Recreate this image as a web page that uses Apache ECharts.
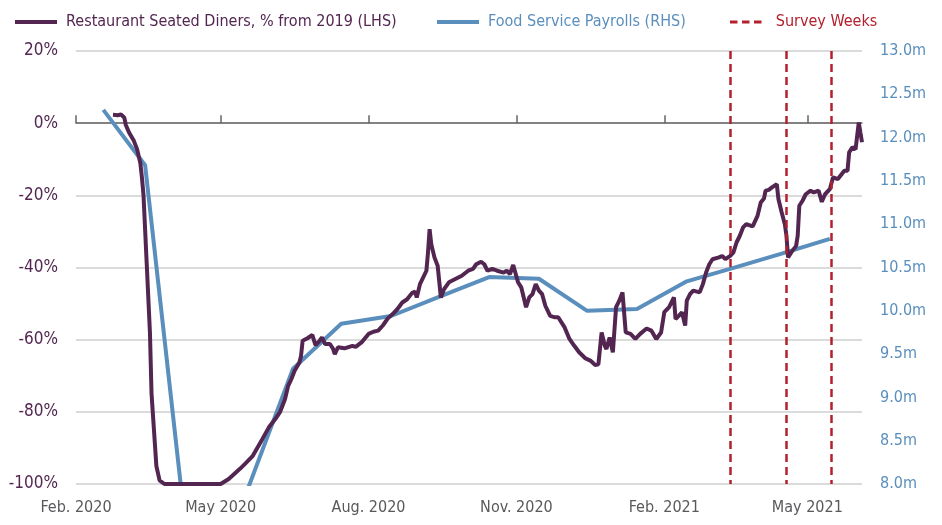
<!DOCTYPE html>
<html>
<head>
<meta charset="utf-8">
<script src="https://cdn.jsdelivr.net/npm/echarts@6/dist/echarts.min.js"></script>
<style>
  html, body { margin: 0; padding: 0; background: #fff; }
  #main { width: 942px; height: 525px; }
</style>
</head>
<body>
<div id="main"></div>
<script>
// x axis labels
var xTickDates = ["2020-02-01", "2020-05-01", "2020-08-01", "2020-11-01", "2021-02-01", "2021-05-01"];
var xTickLabels = ["Feb. 2020", "May 2020", "Aug. 2020", "Nov. 2020", "Feb. 2021", "May 2021"];
var zeroTickDates = ["2020-02-01", "2020-05-01", "2020-08-01", "2020-11-01", "2021-02-01", "2021-05-01"];

// Restaurant Seated Diners, % from 2019
var dinerDates = [
  "2020-02-24", "2020-02-27", "2020-02-29", "2020-03-02", "2020-03-03", "2020-03-05", "2020-03-08", "2020-03-10",
  "2020-03-12", "2020-03-13", "2020-03-14", "2020-03-16", "2020-03-18", "2020-03-19", "2020-03-22", "2020-03-24",
  "2020-03-27", "2020-05-01", "2020-05-06", "2020-05-13", "2020-05-16", "2020-05-21", "2020-05-27", "2020-05-31",
  "2020-06-04", "2020-06-07", "2020-06-10", "2020-06-12", "2020-06-14", "2020-06-16", "2020-06-19", "2020-06-20",
  "2020-06-21", "2020-06-24", "2020-06-27", "2020-06-29", "2020-07-01", "2020-07-03", "2020-07-05", "2020-07-08",
  "2020-07-10", "2020-07-11", "2020-07-13", "2020-07-17", "2020-07-22", "2020-07-24", "2020-07-28", "2020-08-01",
  "2020-08-04", "2020-08-07", "2020-08-10", "2020-08-13", "2020-08-16", "2020-08-19", "2020-08-22", "2020-08-25",
  "2020-08-28", "2020-08-30", "2020-08-31", "2020-09-02", "2020-09-06", "2020-09-07", "2020-09-08", "2020-09-09",
  "2020-09-11", "2020-09-13", "2020-09-15", "2020-09-17", "2020-09-20", "2020-09-24", "2020-09-28", "2020-10-02",
  "2020-10-05", "2020-10-07", "2020-10-10", "2020-10-12", "2020-10-14", "2020-10-17", "2020-10-20", "2020-10-24",
  "2020-10-26", "2020-10-28", "2020-10-30", "2020-11-02", "2020-11-04", "2020-11-07", "2020-11-09", "2020-11-11",
  "2020-11-13", "2020-11-15", "2020-11-17", "2020-11-19", "2020-11-22", "2020-11-25", "2020-11-27", "2020-12-01",
  "2020-12-04", "2020-12-07", "2020-12-10", "2020-12-14", "2020-12-17", "2020-12-20", "2020-12-22", "2020-12-24",
  "2020-12-26", "2020-12-27", "2020-12-29", "2020-12-31", "2021-01-02", "2021-01-04", "2021-01-06", "2021-01-08",
  "2021-01-11", "2021-01-14", "2021-01-17", "2021-01-21", "2021-01-24", "2021-01-27", "2021-01-30", "2021-02-01",
  "2021-02-04", "2021-02-07", "2021-02-08", "2021-02-10", "2021-02-12", "2021-02-14", "2021-02-15", "2021-02-17",
  "2021-02-19", "2021-02-23", "2021-02-25", "2021-02-27", "2021-03-01", "2021-03-03", "2021-03-07", "2021-03-09",
  "2021-03-11", "2021-03-14", "2021-03-16", "2021-03-18", "2021-03-20", "2021-03-22", "2021-03-24", "2021-03-28",
  "2021-03-31", "2021-04-02", "2021-04-04", "2021-04-05", "2021-04-07", "2021-04-09", "2021-04-12", "2021-04-13",
  "2021-04-15", "2021-04-17", "2021-04-18", "2021-04-19", "2021-04-21", "2021-04-24", "2021-04-25", "2021-04-26",
  "2021-04-28", "2021-04-30", "2021-05-03", "2021-05-05", "2021-05-08", "2021-05-10", "2021-05-12", "2021-05-15",
  "2021-05-17", "2021-05-20", "2021-05-24", "2021-05-26", "2021-05-27", "2021-05-29", "2021-05-31", "2021-06-02",
  "2021-06-03", "2021-06-04"
];
var dinerValues = [
  2.3, 2.2, 2.4, 1.6, -0.5, -2.6, -4.9, -7.2,
  -11, -15, -20, -39, -58, -75, -95, -99,
  -100, -100, -98.6, -95.8, -94.5, -92.2, -87.5, -84.3,
  -82, -80, -76.5, -72.8, -70.9, -68.6, -66.3, -64.5,
  -60.3, -59.6, -58.7, -61.5, -60.6, -59.4, -61.2, -61.2,
  -62.6, -64, -62.1, -62.4, -61.7, -62, -60.6, -58.4,
  -57.8, -57.5, -56, -54.1, -52.9, -51.5, -49.7, -48.8,
  -47.1, -46.7, -48.3, -44.6, -40.9, -35.8, -29.4, -33.5,
  -37.2, -39.5, -48.3, -46, -44.1, -43.2, -42.3, -40.9,
  -40.4, -39.1, -38.4, -39.1, -40.9, -40.4, -40.9, -41.4,
  -40.9, -41.8, -39.3, -44.1, -45.5, -51, -48.3, -47.4,
  -44.6, -46.4, -47.4, -50.6, -53.4, -53.8, -53.8, -56.6,
  -59.8, -61.7, -63.5, -65.2, -65.8, -67, -66.8, -58,
  -61.7, -62.6, -59.4, -63.5, -51, -49.2, -46.9, -58,
  -58.4, -59.8, -58.4, -56.9, -57.5, -59.8, -58, -52.4,
  -51, -48.3, -54.3, -53.4, -52.4, -56.1, -49.2, -47.4,
  -46.4, -46.9, -44.6, -41.4, -39.1, -37.7, -37.2, -36.8,
  -37.7, -36.8, -35.8, -33, -31.2, -28.9, -28, -28.6,
  -25.7, -22, -20.9, -18.7, -18.5, -17.8, -16.9, -21,
  -24.7, -28, -31.2, -37.2, -35.8, -34, -31.2, -22.9,
  -21.5, -19.7, -18.7, -19.2, -18.7, -21.8, -19.7, -18.3,
  -15, -15.5, -13.2, -13.2, -8.1, -6.7, -7.2, 0.2,
  -2.6, -5.3
];

// Food Service Payrolls, millions
var payrollDates = [
  "2020-02-18", "2020-03-15", "2020-04-15", "2020-05-15", "2020-06-15", "2020-07-15", "2020-08-15", "2020-09-15",
  "2020-10-15", "2020-11-15", "2020-12-15", "2021-01-15", "2021-02-15", "2021-03-15", "2021-04-15", "2021-05-15"
];
var payrollValues = [12.32, 11.68, 6.52, 7.8, 9.33, 9.85, 9.94, 10.17, 10.39, 10.37, 10.0, 10.02, 10.34, 10.49, 10.66, 10.83];

// Survey weeks
var surveyDates = ["2021-03-14", "2021-04-18", "2021-05-16"];

var purple = "#532651";
var blue = "#5a8fbd";
var red = "#b3202e";
var font = "'Liberation Sans Narrow', 'DejaVu Sans Condensed', sans-serif";

// 日期转时间戳
function ts(s) {
  return new Date(s + "T00:00:00").getTime();
}

var dinerData = dinerDates.map(function (d, i) { return [ts(d), dinerValues[i]]; });
var payrollData = payrollDates.map(function (d, i) { return [ts(d), payrollValues[i]]; });
var surveyData = surveyDates.map(function (d) { return [ts(d), null]; });
var xMin = ts("2020-02-01");
var xMax = ts("2021-06-04");

var solidIcon = "path://M0,0H42V4H0Z";
var dashIcon = "path://M0,0H10V4H0Z M16,0H26V4H16Z M32,0H42V4H32Z";

var myChart = echarts.init(document.getElementById("main"));
var option = {
  animation: false,
  textStyle: { fontFamily: font },
  grid: { left: 76, right: 80, top: 51, bottom: 41 },
  legend: [
    {
      left: 10, top: 9, itemWidth: 42, itemHeight: 4, itemGap: 0,
      icon: solidIcon,
      data: ["Restaurant Seated Diners, % from 2019 (LHS)"],
      textStyle: { color: purple, fontSize: 16, fontFamily: font, padding: [0, 0, 0, 4] }
    },
    {
      left: 432, top: 9, itemWidth: 42, itemHeight: 4,
      icon: solidIcon,
      data: ["Food Service Payrolls (RHS)"],
      textStyle: { color: blue, fontSize: 16, fontFamily: font, padding: [0, 0, 0, 4] }
    },
    {
      left: 725, top: 9, itemWidth: 42, itemHeight: 3,
      icon: dashIcon,
      data: ["Survey Weeks"],
      textStyle: { color: red, fontSize: 16, fontFamily: font, padding: [0, 0, 0, 4] }
    }
  ],
  xAxis: [
    {
      type: "value",
      min: xMin,
      max: xMax,
      axisLine: { show: false },
      axisTick: { show: false },
      splitLine: { show: false },
      axisLabel: {
        customValues: xTickDates.map(ts),
        margin: 16,
        color: "#58595b",
        fontSize: 16,
        fontFamily: font,
        formatter: function (val) {
          for (var i = 0; i < xTickDates.length; i++) {
            if (Math.abs(ts(xTickDates[i]) - val) < 43200000) return xTickLabels[i];
          }
          return "";
        }
      }
    },
    {
      type: "value",
      min: xMin,
      max: xMax,
      axisLine: { show: true, onZero: true, onZeroAxisIndex: 0, lineStyle: { color: "#666666", width: 1.5 } },
      axisTick: { show: true, length: 8, customValues: zeroTickDates.map(ts), lineStyle: { color: "#666666", width: 1.5 } },
      axisLabel: { show: false },
      splitLine: { show: false }
    }
  ],
  yAxis: [
    {
      type: "value",
      min: -100,
      max: 20,
      interval: 20,
      axisLine: { show: false },
      axisTick: { show: false },
      axisLabel: { formatter: "{value}%", color: purple, fontSize: 17, margin: 18, fontFamily: font },
      splitLine: { lineStyle: { color: "#cfcfcf", width: 1.5 } }
    },
    {
      type: "value",
      min: 8,
      max: 13,
      interval: 0.5,
      position: "right",
      axisLine: { show: false },
      axisTick: { show: false },
      axisLabel: {
        color: blue, fontSize: 16, margin: 18, fontFamily: font,
        formatter: function (v) { return v.toFixed(1) + "m"; }
      },
      splitLine: { show: false }
    }
  ],
  series: [
    {
      name: "Survey Weeks",
      type: "line",
      xAxisIndex: 0,
      yAxisIndex: 0,
      data: surveyData,
      symbol: "none",
      lineStyle: { color: red, width: 2.5, type: [8, 5] },
      itemStyle: { color: red },
      markLine: {
        silent: true,
        symbol: ["none", "none"],
        label: { show: false },
        lineStyle: { color: red, width: 2.5, type: [8, 5] },
        data: surveyDates.map(function (d) {
          return [{ coord: [ts(d), 20] }, { coord: [ts(d), -100] }];
        })
      }
    },
    {
      name: "Food Service Payrolls (RHS)",
      type: "line",
      xAxisIndex: 0,
      yAxisIndex: 1,
      data: payrollData,
      symbol: "none",
      lineStyle: { color: blue, width: 4 },
      itemStyle: { color: blue }
    },
    {
      name: "Restaurant Seated Diners, % from 2019 (LHS)",
      type: "line",
      xAxisIndex: 0,
      yAxisIndex: 0,
      data: dinerData,
      symbol: "none",
      lineStyle: { color: purple, width: 4 },
      itemStyle: { color: purple }
    }
  ]
};
if (option && typeof option === "object") {
  myChart.setOption(option);
}
</script>
</body>
</html>
